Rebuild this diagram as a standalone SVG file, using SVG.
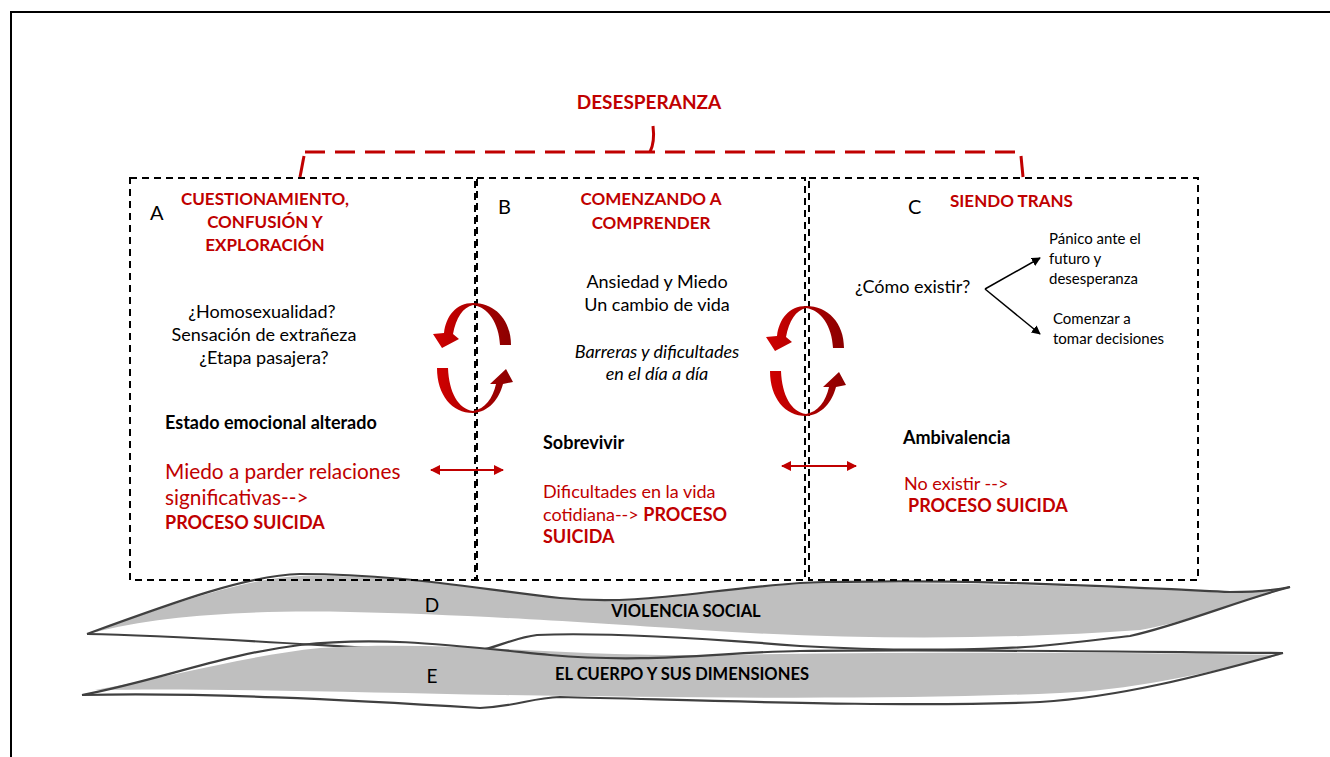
<svg xmlns="http://www.w3.org/2000/svg" width="1330" height="757" viewBox="0 0 1330 757">
<defs>
<style>
text{font-family:Lato,"Open Sans","Liberation Sans",sans-serif;}
.t{font-size:18px;fill:#000;}
.r{fill:#C00000;}
.b{font-weight:bold;}
.h{font-size:17px;font-weight:bold;fill:#C00000;}
.s{font-size:15px;fill:#000;}
.lab{font-size:20px;fill:#000;}
.box{fill:none;stroke:#000;stroke-width:2;stroke-dasharray:7 5;}
.ol{fill:none;stroke:#404040;stroke-width:2.2;}
.band{fill:#BFBFBF;}
</style>
<linearGradient id="g" x1="0" y1="0" x2="1" y2="0">
<stop offset="0" stop-color="#D00000"/>
<stop offset="1" stop-color="#8B0000"/>
</linearGradient>
<marker id="ra" viewBox="0 0 10 10" refX="9" refY="5" markerWidth="5" markerHeight="5" orient="auto-start-reverse"><path d="M0,0 L10,5 L0,10 Z" fill="#C00000"/></marker>
<marker id="ka" viewBox="0 0 10 10" refX="9" refY="5" markerWidth="6" markerHeight="6" orient="auto"><path d="M0,0 L10,5 L0,10 Z" fill="#000"/></marker>
<g id="cyc">
<path d="M511,345 C511,320 495,303 473,303 C456,303 446,316 444,333 L433,334 L442,348 L459,339 L453,334 C456,318 463,307 473,305 C488,307 499,323 500,345 Z" fill="url(#g)"/>
<path d="M437,368 C437,395 452,413 473,413 C489,412 499,399 503,384 L513,382 L506,369 L490,384 L496,384 C493,398 485,409 473,411 C458,409 449,392 448,368 Z" fill="url(#g)"/>
</g>
</defs>

<g id="frame"><path d="M11,757 L11,12 L1330,12" fill="none" stroke="#000" stroke-width="2"/></g>

<g id="bands">
<path class="band" d="M92,633 C180,600 250,578 300,576 C400,574 480,590 560,598 C640,606 700,590 800,584 C950,580 1100,588 1230,592 L1285,589 C1240,602 1180,624 1140,630 C1000,640 850,640 700,630 C550,620 450,614 350,612 C250,610 160,615 92,633 Z"/>
<path class="ol" d="M87,634 C180,600 250,575 300,574 C400,574 470,588 560,598 C640,606 700,590 800,583 C950,578 1100,586 1230,592 C1255,592 1275,590 1290,587"/>
<path class="ol" d="M87,634 C200,636 350,648 463,653 C490,652 510,638 537,635 C600,632 700,638 800,646 C900,652 1000,650 1050,645 C1090,641 1110,638 1130,636 C1180,625 1240,600 1290,587"/>
<path class="band" d="M95,690 C180,675 250,655 320,648 C450,640 550,656 700,655 C900,652 1100,652 1280,655 C1200,675 1130,690 1060,693 C900,700 700,698 500,695 C350,692 200,688 95,690 Z"/>
<path class="ol" d="M82,695 C160,680 220,655 300,645 C380,636 450,645 550,655 C650,664 720,652 800,651 C950,649 1150,652 1283,653"/>
<path class="ol" d="M82,695 C200,692 350,700 480,708 C520,706 530,698 560,697 C700,700 900,708 1040,702 C1120,697 1200,676 1283,653"/>
</g>

<g id="boxA">
<rect class="box" x="130" y="178" width="345" height="402"/>
<text class="lab" x="150" y="220">A</text>
<text class="h" text-anchor="middle" x="265" y="205">CUESTIONAMIENTO,</text>
<text class="h" text-anchor="middle" x="265" y="228">CONFUSIÓN Y</text>
<text class="h" text-anchor="middle" x="265" y="251">EXPLORACIÓN</text>
<text class="t" text-anchor="middle" x="262" y="318">¿Homosexualidad?</text>
<text class="t" text-anchor="middle" x="264" y="341">Sensación de extrañeza</text>
<text class="t" text-anchor="middle" x="264" y="364">¿Etapa pasajera?</text>
<text class="t b" x="165" y="429">Estado emocional alterado</text>
<text class="r" x="165" y="479" style="font-size:20.8px">Miedo a parder relaciones</text>
<text class="r" x="165" y="505" style="font-size:20.8px">significativas--&gt;</text>
<text class="t r b" x="165" y="529">PROCESO SUICIDA</text>
</g>

<g id="boxB">
<rect class="box" x="477" y="178" width="328" height="402"/>
<text class="lab" x="498" y="214">B</text>
<text class="h" text-anchor="middle" x="651" y="205">COMENZANDO A</text>
<text class="h" text-anchor="middle" x="651" y="229">COMPRENDER</text>
<text class="t" text-anchor="middle" x="657" y="288">Ansiedad y Miedo</text>
<text class="t" text-anchor="middle" x="657" y="311">Un cambio de vida</text>
<text class="t" text-anchor="middle" x="657" y="358" font-style="italic">Barreras y dificultades</text>
<text class="t" text-anchor="middle" x="657" y="380" font-style="italic">en el día a día</text>
<text class="t b" x="543" y="449">Sobrevivir</text>
<text class="t r" x="543" y="498">Dificultades en la vida</text>
<text class="t r" x="543" y="521">cotidiana--&gt; <tspan class="b">PROCESO</tspan></text>
<text class="t r b" x="543" y="543">SUICIDA</text>
</g>

<g id="boxC">
<rect class="box" x="809" y="178" width="389" height="402"/>
<text class="lab" x="908" y="214">C</text>
<text class="h" x="950" y="207">SIENDO TRANS</text>
<text class="t" x="855" y="293">¿Cómo existir?</text>
<text class="s" x="1049" y="244">Pánico ante el</text>
<text class="s" x="1049" y="264">futuro y</text>
<text class="s" x="1049" y="284">desesperanza</text>
<text class="s" x="1053" y="324">Comenzar a</text>
<text class="s" x="1053" y="344">tomar decisiones</text>
<text class="t b" x="903" y="444">Ambivalencia</text>
<text class="t r" x="904" y="490">No existir --&gt;</text>
<text class="t r b" x="908" y="512">PROCESO SUICIDA</text>
</g>

<g id="boxD"><text class="lab" x="432" y="612" text-anchor="middle" style="font-size:19px">D</text>
<text class="b" x="686" y="617" text-anchor="middle" style="font-size:16.5px">VIOLENCIA SOCIAL</text></g>
<g id="boxE"><text class="lab" x="432" y="683" text-anchor="middle" style="font-size:19px">E</text>
<text class="b" x="682" y="680" text-anchor="middle" style="font-size:16.5px">EL CUERPO Y SUS DIMENSIONES</text></g>

<g id="title">
<text class="h" x="649" y="109" text-anchor="middle" style="font-size:19px">DESESPERANZA</text>
</g>

<g id="connectors">
<path d="M305,152 L1020,152" fill="none" stroke="#C00000" stroke-width="3" stroke-dasharray="20 10"/>
<path d="M300,177 L304,156" fill="none" stroke="#C00000" stroke-width="3"/>
<path d="M650,152 Q655,142 653,126" fill="none" stroke="#C00000" stroke-width="3"/>
<path d="M1023,177 L1021,156" fill="none" stroke="#C00000" stroke-width="3"/>
<use href="#cyc"/>
<use href="#cyc" transform="translate(333,3)"/>
<line x1="431" y1="470" x2="503" y2="470" stroke="#C00000" stroke-width="2" marker-start="url(#ra)" marker-end="url(#ra)"/>
<line x1="782" y1="466" x2="856" y2="466" stroke="#C00000" stroke-width="2" marker-start="url(#ra)" marker-end="url(#ra)"/>
<line x1="985" y1="289" x2="1040" y2="258" stroke="#000" stroke-width="1.5" marker-end="url(#ka)"/>
<line x1="985" y1="289" x2="1040" y2="334" stroke="#000" stroke-width="1.5" marker-end="url(#ka)"/>
</g>
</svg>
